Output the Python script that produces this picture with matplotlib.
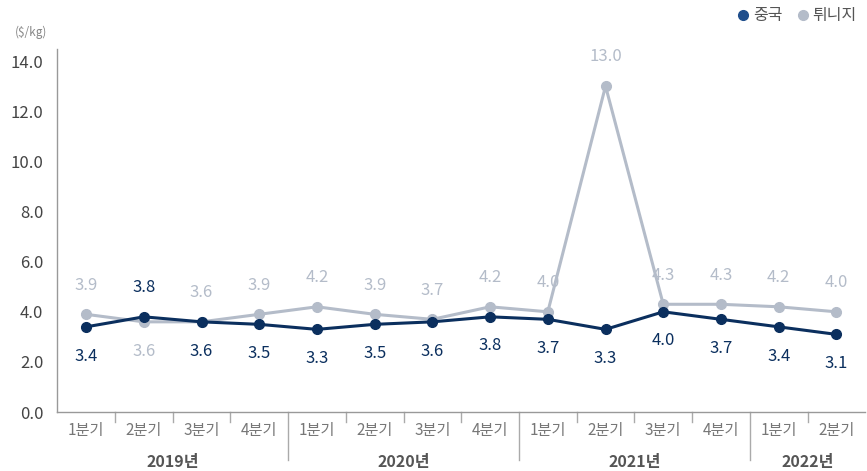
import matplotlib
matplotlib.use('Agg')
import matplotlib.pyplot as plt
from matplotlib.lines import Line2D
from matplotlib.transforms import blended_transform_factory

plt.rcParams['font.family'] = ['Noto Sans CJK KR', 'DejaVu Sans']

quarters = ['1분기', '2분기', '3분기', '4분기'] * 3 + ['1분기', '2분기']
years = ['2019년', '2020년', '2021년', '2022년']
year_span = [4, 4, 4, 2]
china = [3.4, 3.8, 3.6, 3.5, 3.3, 3.5, 3.6, 3.8, 3.7, 3.3, 4.0, 3.7, 3.4, 3.1]
tunisia = [3.9, 3.6, 3.6, 3.9, 4.2, 3.9, 3.7, 4.2, 4.0, 13.0, 4.3, 4.3, 4.2, 4.0]
yticks = [0, 2, 4, 6, 8, 10, 12, 14]

c_china = '#0b2f5e'
c_tun = '#b4bcc9'

fig = plt.figure(figsize=(8.67, 4.71), dpi=100)
ax = fig.add_axes([0.066, 0.125, 0.932, 0.771])

x = list(range(len(china)))
ax.plot(x, tunisia, color=c_tun, lw=2.2, marker='o', ms=7, zorder=2)
ax.plot(x, china, color=c_china, lw=2.2, marker='o', ms=7, zorder=3)

# value labels: above or below depending on which series is on top
off = 21
for i in x:
    t_up = tunisia[i] >= china[i]
    ax.annotate(f'{tunisia[i]:.1f}', (i, tunisia[i]), xytext=(0, off if t_up else -off),
                textcoords='offset points', ha='center', va='center',
                fontsize=12, color=c_tun)
    ax.annotate(f'{china[i]:.1f}', (i, china[i]), xytext=(0, -off if t_up else off),
                textcoords='offset points', ha='center', va='center',
                fontsize=12, color=c_china)

ax.set_xlim(-0.5, len(china) - 0.5)
ax.set_ylim(0, 14.48)
ax.set_yticks(yticks)
ax.set_yticklabels([f'{v:.1f}' for v in yticks], fontsize=12, color='#444444')
ax.tick_params(axis='y', length=0, pad=10)
ax.set_xticks([])

for s in ['top', 'right']:
    ax.spines[s].set_visible(False)
for s in ['left', 'bottom']:
    ax.spines[s].set_color('#999999')
    ax.spines[s].set_linewidth(1.0)

trans = blended_transform_factory(ax.transData, ax.transAxes)
px = 1.0 / (0.771 * 471)

# quarter labels
for i, q in enumerate(quarters):
    ax.text(i, -18 * px, q, transform=trans, ha='center', va='center',
            fontsize=11, color='#777777')

# separators: short between quarters, long between years
bounds = []
pos = 0
for n in year_span:
    bounds.append(pos + n - 0.5)
    pos += n
for b in range(len(china) - 1):
    xb = b + 0.5
    if xb in bounds:
        ax.plot([xb, xb], [0, -48 * px], transform=trans, color='#aaaaaa',
                lw=1.0, clip_on=False)
    else:
        ax.plot([xb, xb], [0, -10 * px], transform=trans, color='#aaaaaa',
                lw=1.0, clip_on=False)

pos = 0
for yr, n in zip(years, year_span):
    ax.text(pos + (n - 1) / 2, -50 * px, yr, transform=trans, ha='center',
            va='center', fontsize=11.5, fontweight='bold', color='#555555')
    pos += n

fig.text(0.017, 0.932, '($/kg)', fontsize=8.5, color='#888888', ha='left', va='center')

handles = [Line2D([], [], color='#1f4e8c', marker='o', ls='', ms=7, label='중국'),
           Line2D([], [], color=c_tun, marker='o', ls='', ms=7, label='튀니지')]
fig.legend(handles=handles, loc='upper right', bbox_to_anchor=(1.005, 1.015), ncol=2,
           frameon=False, fontsize=11.5, handletextpad=0.1, columnspacing=0.8,
           labelcolor='#555555', handlelength=1.0)

fig.savefig('out.png', dpi=100)
